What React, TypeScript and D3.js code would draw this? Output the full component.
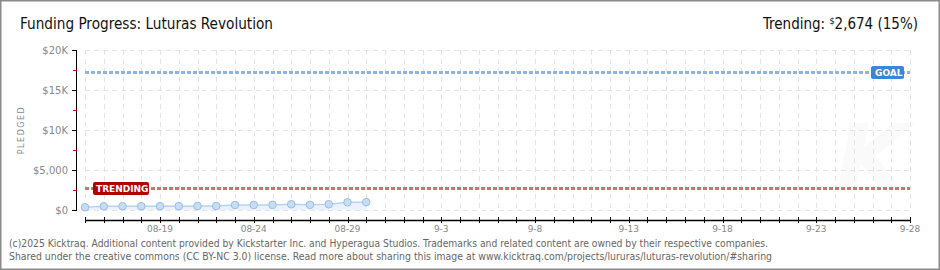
import { useEffect, useRef } from 'react';
import * as d3 from 'd3';

// daily pledged totals
const days = [
  '2025-08-15', '2025-08-16', '2025-08-17', '2025-08-18', '2025-08-19', '2025-08-20',
  '2025-08-21', '2025-08-22', '2025-08-23', '2025-08-24', '2025-08-25', '2025-08-26',
  '2025-08-27', '2025-08-28', '2025-08-29', '2025-08-30',
];
const pledged = [340, 460, 470, 470, 480, 480, 490, 490, 620, 630, 640, 720, 650, 720, 960, 980];

const goal = 17200;
const trending = 2674;

const yTicks = [0, 5000, 10000, 15000, 20000];
const yTickLabels = ['$0', '$5,000', '$10K', '$15K', '$20K'];
const yMinorTicks = [2500, 7500, 12500, 17500];

const xLabelDays = ['2025-08-19', '2025-08-24', '2025-08-29', '2025-09-03', '2025-09-08', '2025-09-13', '2025-09-18', '2025-09-23', '2025-09-28'];
const xLabels = ['08-19', '08-24', '08-29', '9-3', '9-8', '9-13', '9-18', '9-23', '9-28'];

const startDay = '2025-08-15';
const endDay = '2025-09-28';

const pixelFont = '"DejaVu Sans", sans-serif';

const App = () => {
  const ref = useRef<SVGSVGElement>(null);

  useEffect(() => {
    document.body.style.margin = '0';
    const width = 940;
    const height = 270;
    const parse = d3.utcParse('%Y-%m-%d');

    const svg = d3.select(ref.current);
    svg.selectAll('*').remove();
    svg.attr('width', width).attr('height', height);

    // frame
    svg.append('rect')
      .attr('x', 0.5).attr('y', 0.5)
      .attr('width', width - 1).attr('height', height - 1)
      .attr('fill', '#fff').attr('stroke', '#8a8a8a').attr('stroke-width', 2);

    const x = d3.scaleUtc()
      .domain([parse(startDay)!, parse(endDay)!])
      .range([85, 910]);
    const y = d3.scaleLinear().domain([0, 20000]).range([210, 50]);

    const allDays = d3.utcDay.range(parse(startDay)!, d3.utcDay.offset(parse(endDay)!, 1));

    // faint watermark
    svg.append('text')
      .attr('x', 872).attr('y', 192)
      .attr('text-anchor', 'middle')
      .attr('font-family', 'DejaVu Sans, sans-serif')
      .attr('font-weight', 'bold')
      .attr('font-style', 'italic')
      .attr('font-size', 95)
      .attr('fill', '#fafafa')
      .text('K');

    // grid
    const grid = svg.append('g').attr('stroke', '#e4e4e4').attr('stroke-dasharray', '5,4').attr('stroke-width', 1);
    allDays.forEach((d) => {
      grid.append('line')
        .attr('x1', Math.round(x(d)) + 0.5).attr('x2', Math.round(x(d)) + 0.5)
        .attr('y1', 50).attr('y2', 210);
    });
    yTicks.forEach((t) => {
      grid.append('line')
        .attr('x1', 85).attr('x2', 910)
        .attr('y1', Math.round(y(t)) + 0.5).attr('y2', Math.round(y(t)) + 0.5);
    });

    // y axis
    svg.append('line')
      .attr('x1', 76.5).attr('x2', 76.5).attr('y1', 50).attr('y2', 210)
      .attr('stroke', '#000').attr('stroke-width', 1);
    yTicks.forEach((t, i) => {
      const yy = Math.round(y(t)) + 0.5;
      svg.append('line')
        .attr('x1', 72).attr('x2', 77).attr('y1', yy).attr('y2', yy)
        .attr('stroke', '#000');
      svg.append('text')
        .attr('x', 68).attr('y', yy + 3.5)
        .attr('text-anchor', 'end')
        .attr('font-family', pixelFont)
        .attr('font-size', 10)
        .attr('fill', '#888')
        .text(yTickLabels[i]);
    });
    yMinorTicks.forEach((t) => {
      const yy = Math.round(y(t)) + 0.5;
      svg.append('line')
        .attr('x1', 73).attr('x2', 77).attr('y1', yy).attr('y2', yy)
        .attr('stroke', '#e00000');
    });

    svg.append('text')
      .attr('transform', 'translate(24,130) rotate(-90)')
      .attr('text-anchor', 'middle')
      .attr('font-family', pixelFont)
      .attr('font-size', 8)
      .attr('letter-spacing', 1.5)
      .attr('fill', '#888')
      .text('PLEDGED');

    // x axis
    svg.append('line')
      .attr('x1', 85).attr('x2', 910).attr('y1', 220.5).attr('y2', 220.5)
      .attr('stroke', '#000').attr('stroke-width', 1.5);
    allDays.forEach((d) => {
      const xx = Math.round(x(d)) + 0.5;
      svg.append('line')
        .attr('x1', xx).attr('x2', xx).attr('y1', 217).attr('y2', 223)
        .attr('stroke', '#000');
    });
    xLabelDays.forEach((d, i) => {
      svg.append('text')
        .attr('x', x(parse(d)!)).attr('y', 232)
        .attr('text-anchor', 'middle')
        .attr('font-family', pixelFont)
        .attr('font-size', 9)
        .attr('fill', '#888')
        .text(xLabels[i]);
    });

    // goal line + label
    svg.append('line')
      .attr('x1', 85).attr('x2', 910).attr('y1', y(goal)).attr('y2', y(goal))
      .attr('stroke', '#8fb4e0').attr('stroke-width', 3).attr('stroke-dasharray', '4,2');
    svg.append('rect')
      .attr('x', 871).attr('y', y(goal) - 6.5).attr('width', 33).attr('height', 13).attr('rx', 2)
      .attr('fill', '#3b86d6');
    svg.append('text')
      .attr('x', 875).attr('y', y(goal) + 3.5)
      .attr('font-family', pixelFont).attr('font-size', 9).attr('font-weight', 'bold')
      .attr('fill', '#fff').text('GOAL');

    // trending line + label
    svg.append('line')
      .attr('x1', 85).attr('x2', 910).attr('y1', y(trending)).attr('y2', y(trending))
      .attr('stroke', '#d07070').attr('stroke-width', 3).attr('stroke-dasharray', '4,2');
    svg.append('rect')
      .attr('x', 93).attr('y', y(trending) - 6.5).attr('width', 56).attr('height', 13).attr('rx', 2)
      .attr('fill', '#b30000');
    svg.append('text')
      .attr('x', 96).attr('y', y(trending) + 3.5)
      .attr('font-family', pixelFont).attr('font-size', 9).attr('font-weight', 'bold')
      .attr('fill', '#fff').text('TRENDING');

    // pledged series
    const pts = days.map((d, i) => ({ date: parse(d)!, value: pledged[i] }));
    const area = d3.area<{ date: Date; value: number }>()
      .x((d) => x(d.date)).y0(y(0)).y1((d) => y(d.value));
    const line = d3.line<{ date: Date; value: number }>()
      .x((d) => x(d.date)).y((d) => y(d.value));
    svg.append('path').attr('d', area(pts)).attr('fill', '#eaf3fc');
    svg.append('path').attr('d', line(pts))
      .attr('fill', 'none').attr('stroke', '#b7d3f0').attr('stroke-width', 1.5);
    svg.selectAll('circle.pt').data(pts).enter().append('circle')
      .attr('class', 'pt')
      .attr('cx', (d) => x(d.date)).attr('cy', (d) => y(d.value)).attr('r', 3.8)
      .attr('fill', '#c6ddf6').attr('stroke', '#9bbde3').attr('stroke-width', 1);

    // title
    svg.append('text')
      .attr('x', 20).attr('y', 29)
      .attr('font-family', '"DejaVu Sans Condensed", "DejaVu Sans", sans-serif')
      .attr('font-size', 16)
      .attr('fill', '#111')
      .attr('textLength', 253).attr('lengthAdjust', 'spacingAndGlyphs')
      .text('Funding Progress: Luturas Revolution');

    const tr = svg.append('text')
      .attr('x', 918).attr('y', 29)
      .attr('text-anchor', 'end')
      .attr('font-family', '"DejaVu Sans Condensed", "DejaVu Sans", sans-serif')
      .attr('font-size', 15)
      .attr('fill', '#111');
    tr.append('tspan').text('Trending:  ');
    tr.append('tspan').attr('font-size', 9).attr('dy', -5).text('$');
    tr.append('tspan').attr('dy', 5).text('2,674 (15%)');

    // footer
    const foot = [
      '(c)2025 Kicktraq. Additional content provided by Kickstarter Inc. and Hyperagua Studios. Trademarks and related content are owned by their respective companies.',
      'Shared under the creative commons (CC BY-NC 3.0) license. Read more about sharing this image at www.kicktraq.com/projects/lururas/luturas-revolution/#sharing',
    ];
    const footLen = [759, 763];
    foot.forEach((t, i) => {
      svg.append('text')
        .attr('x', 9).attr('y', 247 + i * 13)
        .attr('font-family', '"DejaVu Sans", sans-serif')
        .attr('font-size', 10)
        .attr('fill', '#666')
        .attr('textLength', footLen[i]).attr('lengthAdjust', 'spacingAndGlyphs')
        .text(t);
    });
  }, []);

  return <svg ref={ref} style={{ display: 'block' }} />;
};

export default App;
